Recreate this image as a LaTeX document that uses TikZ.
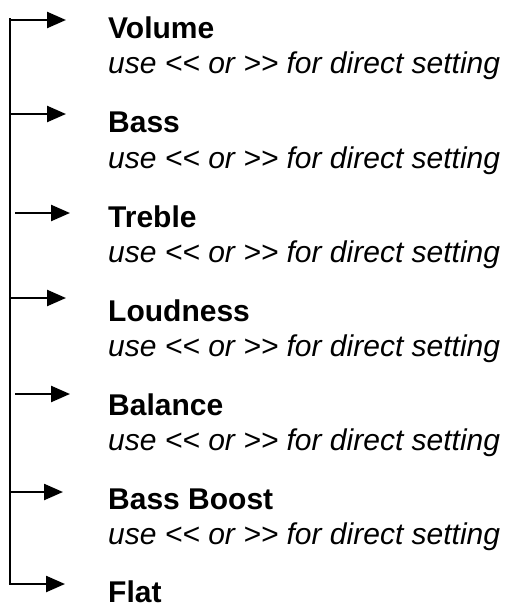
\documentclass[tikz,border=0pt]{standalone}
\usepackage{fontspec}
\setmainfont{Liberation Sans}
\usetikzlibrary{arrows.meta}
\begin{document}
\begin{tikzpicture}[x=1pt,y=-1pt,
  titletext/.style={anchor=base west,inner sep=0pt,font=\fontsize{30}{34}\selectfont\bfseries},
  hinttext/.style={anchor=base west,inner sep=0pt,font=\fontsize{30}{34}\selectfont\itshape},
  bar/.style={line width=2.4pt},
  feed/.style={line width=2.4pt,-{Triangle[length=19pt,width=16pt]}}]
\useasboundingbox (0,0) rectangle (509,605);
\newcommand\hintline{use <{}< or >{}> for direct setting}
% labels
\node[titletext] (t1) at (108,38) {Volume};
\node[hinttext]  (h1) at (108,73) {\hintline};
\node[titletext] (t2) at (108,132) {Bass};
\node[hinttext]  (h2) at (108,168) {\hintline};
\node[titletext] (t3) at (108,227) {Treble};
\node[hinttext]  (h3) at (108,262) {\hintline};
\node[titletext] (t4) at (108,321) {Loudness};
\node[hinttext]  (h4) at (108,356) {\hintline};
\node[titletext] (t5) at (108,415) {Balance};
\node[hinttext]  (h5) at (108,450) {\hintline};
\node[titletext] (t6) at (108,509) {Bass Boost};
\node[hinttext]  (h6) at (108,544) {\hintline};
\node[titletext] (t7) at (108,602) {Flat};
% bar and arrows
\coordinate (top) at (10,18);
\coordinate (bot) at (10,584);
\coordinate (s1) at (11,20);   \coordinate (e1) at (66,20);
\coordinate (s2) at (11,114);  \coordinate (e2) at (66,114);
\coordinate (s3) at (15,213);  \coordinate (e3) at (70,213);
\coordinate (s4) at (11,298);  \coordinate (e4) at (66,298);
\coordinate (s5) at (15,394);  \coordinate (e5) at (70,394);
\coordinate (s6) at (10,492);  \coordinate (e6) at (63,492);
\coordinate (e7) at (65,584);
\draw[bar] (top) -- (bot);
\draw[feed] (s1) -- (e1);
\draw[feed] (s2) -- (e2);
\draw[feed] (s3) -- (e3);
\draw[feed] (s4) -- (e4);
\draw[feed] (s5) -- (e5);
\draw[feed] (s6) -- (e6);
\draw[feed] ([xshift=-1.2pt]bot) -- (e7);
\end{tikzpicture}
\end{document}
